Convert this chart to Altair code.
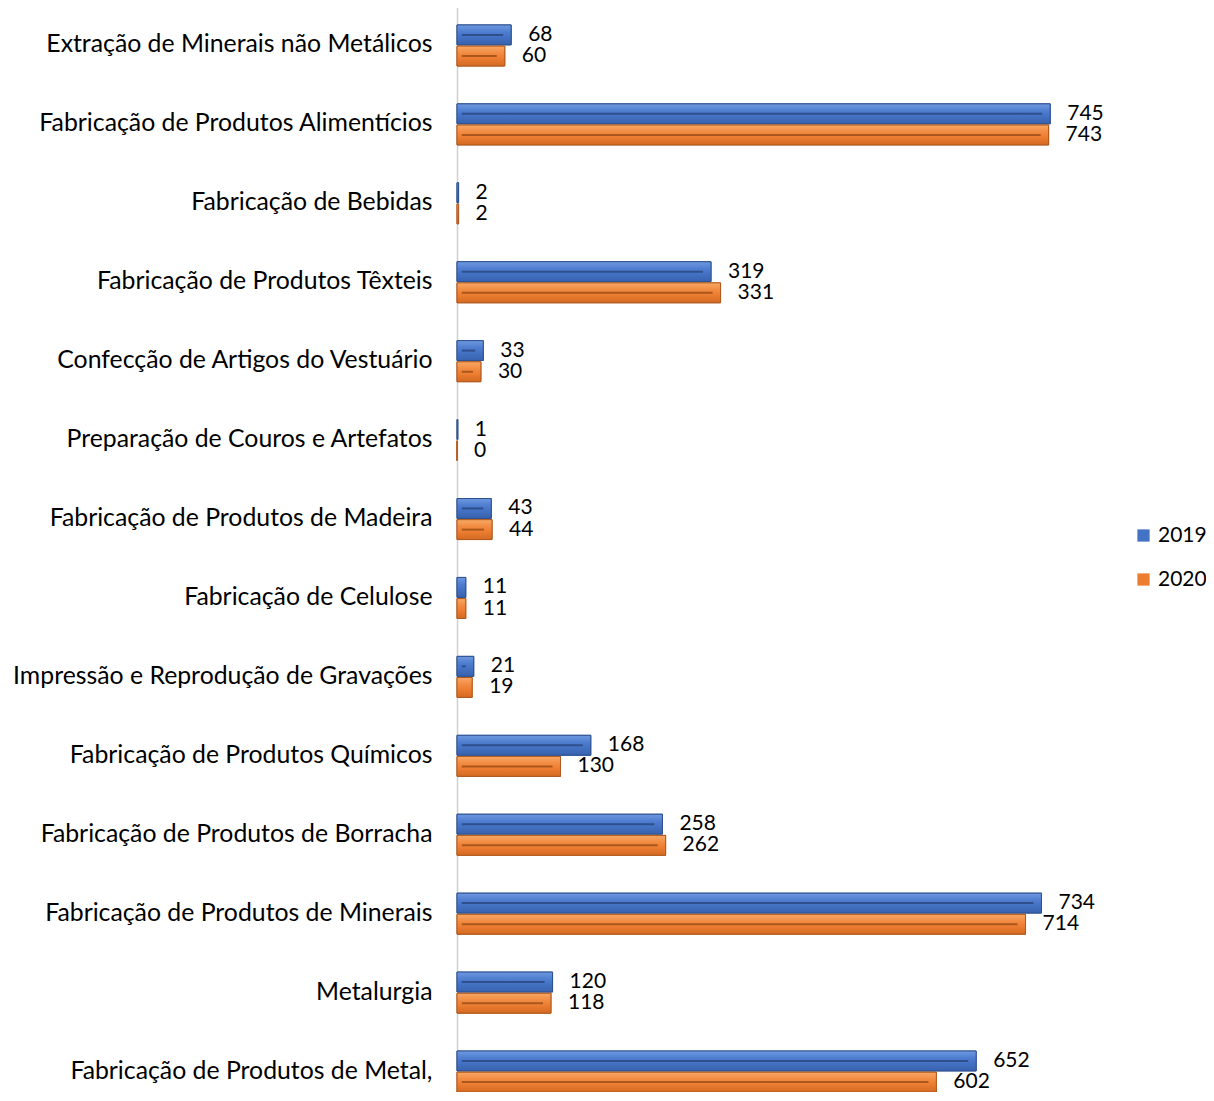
import altair as alt
import pandas as pd

categories = [
    "Extração de Minerais não Metálicos",
    "Fabricação de Produtos Alimentícios",
    "Fabricação de Bebidas",
    "Fabricação de Produtos Têxteis",
    "Confecção de Artigos do Vestuário\u00a0",
    "Preparação de Couros e Artefatos\u00a0",
    "Fabricação de Produtos de Madeira",
    "Fabricação de Celulose",
    "Impressão e Reprodução de Gravações",
    "Fabricação de Produtos Químicos",
    "Fabricação de Produtos de Borracha\u00a0",
    "Fabricação de Produtos de Minerais\u00a0",
    "Metalurgia",
    "Fabricação de Produtos de Metal,\u00a0",
]
values_2019 = [68, 745, 2, 319, 33, 1, 43, 11, 21, 168, 258, 734, 120, 652]
values_2020 = [60, 743, 2, 331, 30, 0, 44, 11, 19, 130, 262, 714, 118, 602]
years = ["2019", "2020"]
fill_colors = ["#4472C4", "#ED7D31"]
edge_colors = ["#2F528F", "#B05A1F"]
line_colors = ["#2E4F8C", "#A9571C"]
grad_stops = {
    "2019": ["#6F98E0", "#4F7ED0", "#4472C4", "#3862AE"],
    "2020": ["#F8A865", "#F28B42", "#ED7D31", "#D36A22"],
}

rows = []
for i, c in enumerate(categories):
    rows.append({"cat": c, "year": "2019", "value": values_2019[i]})
    rows.append({"cat": c, "year": "2020", "value": values_2020[i]})
df = pd.DataFrame(rows)

font = "Lato"
fs_cat = 24.8
fs = 21

y = alt.Y(
    "cat:N",
    sort=categories,
    scale=alt.Scale(paddingInner=0.48, paddingOuter=0.24),
    axis=alt.Axis(
        title=None, domain=True, domainColor="#D0D0D0", domainWidth=1.5,
        ticks=False, labelFontSize=fs_cat, labelFont=font, labelColor="black",
        labelPadding=25, labelLimit=0,
    ),
)
yoff = alt.YOffset("year:N", sort=years, scale=alt.Scale(paddingInner=0.06))
xscale = alt.Scale(domain=[0, 800], nice=False)
x = alt.X("value:Q", scale=xscale, axis=None)

base = alt.Chart(df)

bars = base.mark_bar(strokeWidth=1).encode(
    x=x, y=y, yOffset=yoff,
    color=alt.Color(
        "year:N",
        scale=alt.Scale(domain=years, range=fill_colors),
        legend=alt.Legend(
            title=None, orient="none", legendX=676, legendY=519,
            symbolType="square", symbolSize=150, labelFontSize=fs,
            labelFont=font, labelColor="black", rowPadding=22, labelOffset=4,
            symbolStrokeWidth=0, padding=0,
        ),
    ),
    stroke=alt.Stroke("year:N", scale=alt.Scale(domain=years, range=edge_colors), legend=None),
)

grad_layers = []
for yr in years:
    s = grad_stops[yr]
    grad = alt.LinearGradient(
        gradient="linear", x1=0, x2=0, y1=0, y2=1,
        stops=[
            alt.GradientStop(offset=0, color=s[0]),
            alt.GradientStop(offset=0.35, color=s[1]),
            alt.GradientStop(offset=0.6, color=s[2]),
            alt.GradientStop(offset=1, color=s[3]),
        ],
    )
    edge = edge_colors[years.index(yr)]
    grad_layers.append(
        base.transform_filter(alt.datum.year == yr).mark_bar(
            color=grad, stroke=edge, strokeWidth=1
        ).encode(x=x, y=y, yOffset=yoff)
    )

lines = base.transform_filter("datum.value >= 20").transform_calculate(
    start="6", end="datum.value - 10"
).mark_rule(strokeWidth=2).encode(
    x=alt.X("start:Q", scale=xscale, axis=None),
    x2="end:Q",
    y=y,
    yOffset=alt.YOffset("year:N", sort=years, scale=alt.Scale(paddingInner=0.06), bandPosition=0.58),
    color=alt.Color("year:N", scale=alt.Scale(domain=years, range=line_colors), legend=None),
)

labels = base.mark_text(
    align="left", baseline="middle", dx=17, fontSize=fs, font=font, color="black"
).encode(x=x, y=y, yOffset=yoff, text="value:Q")

chart = alt.layer(bars, *grad_layers, lines, labels).resolve_scale(color="independent").properties(
    width=637, height=1105,
    autosize=alt.AutoSizeParams(type="none"),
    padding={"left": 449, "top": -2, "right": 112, "bottom": -19},
).configure_view(stroke=None)

chart.save("out.html", embed_options={"renderer": "svg", "actions": False})
